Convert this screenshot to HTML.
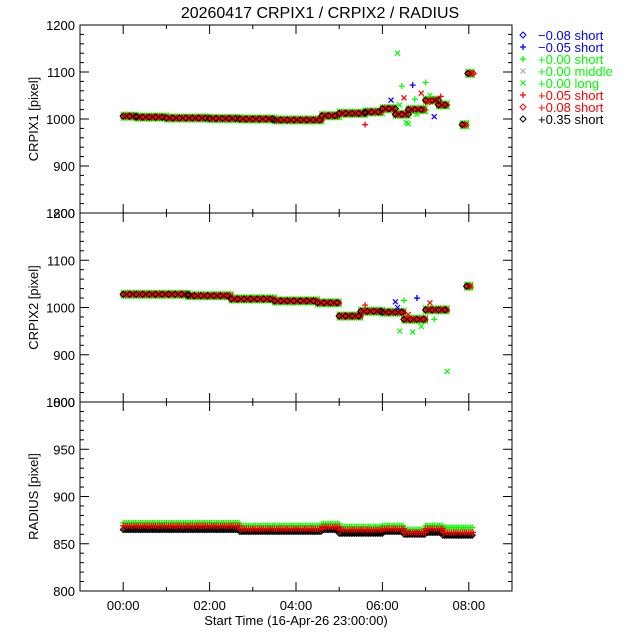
<!DOCTYPE html>
<html><head><meta charset="utf-8"><style>
html,body{margin:0;padding:0;background:#fff;}
svg{display:block;font-family:"Liberation Sans",sans-serif;}
</style></head><body>
<svg id="c" width="640" height="640"></svg>
<script>
// ---- data ----
const xTickLabels = ["00:00","02:00","04:00","06:00","08:00"];
const xTickHours = [0,2,4,6,8];
const p1Ticks = [800,900,1000,1100,1200];
const p2Ticks = [800,900,1000,1100,1200];
const p3Ticks = [800,850,900,950,1000];
// CRPIX1 segments
const c1Start = [0,0.3,1.0,2.0,2.7,3.5,4.6,5.0,5.6,6.0,6.3,6.6,7.0,7.3,7.85,7.98];
const c1End   = [0.3,1.0,2.0,2.7,3.5,4.6,5.0,5.6,6.0,6.3,6.6,7.0,7.3,7.5,7.95,8.1];
const c1Val   = [1006,1004,1002,1001,1000,998,1007,1012,1015,1022,1010,1020,1040,1030,988,1097];
const c1OutT = [5.6,6.2,6.35,6.45,6.5,6.6,6.7,6.8,6.9,7.0,7.1,7.2,7.35,6.4,6.55,6.75,7.05];
const c1OutV = [988,1040,1140,1070,1045,990,1072,1010,1055,1078,1050,1005,1048,1030,992,1042,1035];
// CRPIX2 segments
const c2Start = [0,1.5,2.5,3.5,4.5,5.0,5.5,6.0,6.5,7.0,7.95];
const c2End   = [1.5,2.5,3.5,4.5,5.0,5.5,6.0,6.5,7.0,7.5,8.05];
const c2Val   = [1028,1025,1018,1014,1010,982,992,990,975,995,1045];
const c2OutT = [5.6,6.3,6.4,6.5,6.6,6.7,6.8,6.9,7.1,7.2,7.5,6.35];
const c2OutV = [1005,1012,950,1015,985,948,1020,960,1010,975,865,1000];
// RADIUS segments (green / red / black)
const rStart = [0,2.7,4.6,5.0,6.0,6.5,7.0,7.4];
const rEnd   = [2.7,4.6,5.0,6.0,6.5,7.0,7.4,8.1];
const rGreen = [872,869,871,868,869,865,869,867];
const rRed   = [869,866,868,865,866,862,866,862];
const rBlack = [865,863,865,861,863,860,862,859];

const S = document.getElementById('c');
const NS = 'http://www.w3.org/2000/svg';
function el(tag, attrs, parent){const e=document.createElementNS(NS,tag);for(const k in attrs)e.setAttribute(k,attrs[k]);(parent||S).appendChild(e);return e;}
const X0=80,X1=512,H0=-1,H1=9;
function xs(h){return X0+(h-H0)/(H1-H0)*(X1-X0);}
const panels=[{top:25,bot:213,min:800,max:1200,ticks:p1Ticks,minor:20,label:'CRPIX1 [pixel]'},
              {top:213,bot:402,min:800,max:1200,ticks:p2Ticks,minor:20,label:'CRPIX2 [pixel]'},
              {top:402,bot:591,min:800,max:1000,ticks:p3Ticks,minor:10,label:'RADIUS [pixel]'}];
function ys(p,v){return p.bot-(v-p.min)/(p.max-p.min)*(p.bot-p.top);}

const t=el('text',{x:320,y:18,'text-anchor':'middle','font-size':16});
t.textContent='20260417 CRPIX1 / CRPIX2 / RADIUS';



function marker(type,x,y,color,g){
  if(type==='d'){el('path',{d:`M${x} ${y-3}L${x+3} ${y}L${x} ${y+3}L${x-3} ${y}Z`,fill:'none',stroke:color,'stroke-width':1},g);}
  else if(type==='+'){el('path',{d:`M${x-3} ${y}H${x+3}M${x} ${y-3}V${y+3}`,stroke:color,'stroke-width':1.3},g);}
  else {el('path',{d:`M${x-2.5} ${y-2.5}L${x+2.5} ${y+2.5}M${x+2.5} ${y-2.5}L${x-2.5} ${y+2.5}`,stroke:color,'stroke-width':1.2},g);}
}
function drawSegs(p,st,en,val,off,type,color,g,step){
  for(let i=0;i<st.length;i++){
    for(let h=st[i];h<=en[i]+1e-6;h+=step){
      marker(type,xs(h),ys(p,val[i]+off),color,g);
    }
  }
}

panels.forEach((p,pi)=>{
  const g=el('g',{});
  
  
  const dg=el('g',{},g);
  
  
  if(pi<2){
    const st=pi?c2Start:c1Start,en=pi?c2End:c1End,v=pi?c2Val:c1Val;
    const ot=pi?c2OutT:c1OutT,ov=pi?c2OutV:c1OutV;
    drawSegs(p,st,en,v,-4,'x','#00ff00',dg,0.05);
    drawSegs(p,st,en,v,4,'x','#00ff00',dg,0.05);
    drawSegs(p,st,en,v,-2,'+','#00ff00',dg,0.05);
    drawSegs(p,st,en,v,0,'d','#000',dg,0.12);
    drawSegs(p,st,en,v,0,'x','#ff0000',dg,0.045);
    drawSegs(p,st,en,v,0,'d','#ff0000',dg,0.06);
    drawSegs(p,st,en,v,0,'d','#000',dg,0.15);
    for(let i=0;i<ot.length;i++){
      const col=i%4===0?'#ff0000':(i%5===1?'#0000ff':'#00ff00');
      marker(i%3===0?'+':'x',xs(ot[i]),ys(p,ov[i]),col,dg);
    }
  } else {
    drawSegs(p,rStart,rEnd,rGreen,0,'+','#00ff00',dg,0.04);
    drawSegs(p,rStart,rEnd,rBlack,0,'d','#000',dg,0.04);
    drawSegs(p,rStart,rEnd,rRed,0,'+','#ff0000',dg,0.05);
  }
  el('rect',{x:X0,y:p.top,width:X1-X0,height:p.bot-p.top,fill:'none',stroke:'#000','stroke-width':1},g);
  for(let v=p.min;v<=p.max;v+=p.minor){
    const y=ys(p,v),major=p.ticks.includes(v);
    const L=major?9:4;
    el('line',{x1:X0,x2:X0+L,y1:y,y2:y,stroke:'#000'},g);
    el('line',{x1:X1,x2:X1-L,y1:y,y2:y,stroke:'#000'},g);
  }
  p.ticks.forEach(v=>{
    const tx=el('text',{x:X0-5,y:ys(p,v)+5,'text-anchor':'end','font-size':13},g);
    tx.textContent=v;
    
    
  });
  for(let h=H0;h<=H1;h++){
    const major=xTickHours.includes(h), L=major?9:4;
    el('line',{x1:xs(h),x2:xs(h),y1:p.bot,y2:p.bot-L,stroke:'#000'},g);
    el('line',{x1:xs(h),x2:xs(h),y1:p.top,y2:p.top+L,stroke:'#000'},g);
  }
  const yl=el('text',{x:0,y:0,'text-anchor':'middle','font-size':13,transform:`translate(38 ${(p.top+p.bot)/2}) rotate(-90)`},g);
  yl.textContent=p.label;
  
  
});
xTickHours.forEach((h,i)=>{
  const tx=el('text',{x:xs(h),y:610,'text-anchor':'middle','font-size':13});
  tx.textContent=xTickLabels[i];
  
  
});
const xt=el('text',{x:xs(4),y:625,'text-anchor':'middle','font-size':13});
xt.textContent='Start Time (16-Apr-26 23:00:00)';



const legSym=['d','+','+','x','x','+','d','d'];
const legCol=['#0000ff','#0000ff','#00ff00','#aaaaaa','#00ff00','#ff0000','#ff0000','#000000'];
const legTxt=['\u22120.08 short','\u22120.05 short','+0.00 short','+0.00 middle','+0.00 long','+0.05 short','+0.08 short','+0.35 short'];
const lg=el('g',{});


legTxt.forEach((s,i)=>{
  const y=35+i*12;
  const e=el('g',{},lg);
  
  
  marker(legSym[i],523,y,legCol[i],e);
  const tx=el('text',{x:538,y:y+5,'font-size':13,fill:i===3?'#00ff00':legCol[i]},e);
  tx.textContent=s;
});
</script>
</body></html>
